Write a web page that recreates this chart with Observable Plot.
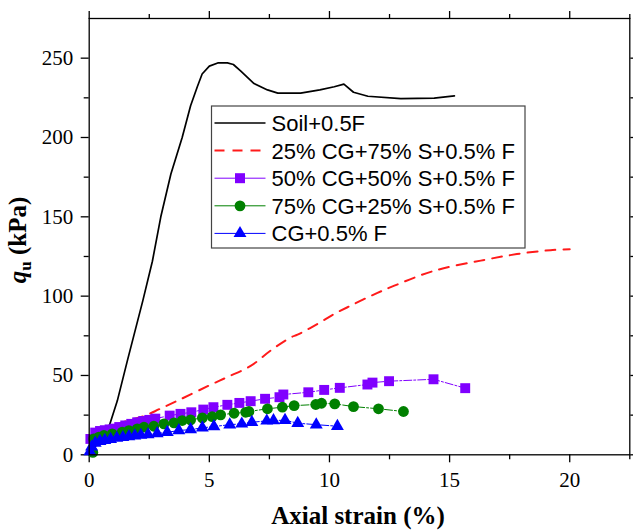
<!DOCTYPE html>
<html>
<head>
<meta charset="utf-8">
<script src="https://cdn.jsdelivr.net/npm/d3@7"></script>
<script src="https://cdn.jsdelivr.net/npm/@observablehq/plot@0.6"></script>
<style>
  html, body { margin: 0; padding: 0; background: white; }
  #chart { width: 633px; height: 532px; }
</style>
</head>
<body>
<div id="chart"></div>
<script>
// ---- Data (axial strain %, qu kPa) ----
const seriesNames = ["Soil+0.5F", "25% CG+75% S+0.5% F", "50% CG+50% S+0.5% F", "75% CG+25% S+0.5% F", "CG+0.5% F"];

const soil = [[0,2],[0.3,6],[0.6,11],[0.85,19],[1.17,34],[1.6,60],[2.23,97],[2.63,122],[2.98,150],[3.4,177],[3.87,200],[4.22,220],[4.5,232],[4.7,240],[5.0,245],[5.35,247],[5.75,247],[6.0,246],[6.3,242],[6.86,234],[7.42,230],[7.85,228],[8.8,228],[9.6,230],[10.2,232],[10.6,233.6],[11.0,228.5],[11.6,226],[12.97,224.5],[14.36,224.8],[15.2,226.2]];

const cg25 = [[0,5],[0.3,12],[0.8,17],[1.5,21],[2.3,24.5],[2.95,29],[3.8,35],[4.98,43.6],[5.75,49],[6.72,56],[7.55,65.7],[8.39,74],[8.67,75.7],[9.5,82.5],[10.2,88.8],[10.75,93],[11.7,100],[12.7,106.6],[14.36,116],[16.3,122.4],[17.8,126.5],[19.2,129],[20,129.5]];

const cg50 = [[0.05,10],[0.25,14],[0.45,15],[0.65,15.5],[0.85,16],[1.05,16.5],[1.25,17.5],[1.5,18.5],[1.75,19.5],[2.0,20.5],[2.25,21.3],[2.5,22],[2.75,22.8],[3.35,24.7],[3.8,25.8],[4.25,26.8],[4.75,28.5],[5.17,30],[5.75,31.5],[6.25,32.7],[6.72,33.8],[7.32,35.3],[7.92,36.3],[8.08,38],[9.12,39.4],[9.78,40.9],[10.43,42.2],[11.58,44.3],[11.79,45.5],[12.48,46.4],[14.33,47.6],[15.65,42]];

const cg75 = [[0.15,1.5],[0.19,10],[0.4,11.2],[0.61,12.2],[0.96,13.2],[1.37,14.2],[1.65,15.3],[2.0,16.4],[2.28,17.4],[2.69,18],[3.11,19.5],[3.53,20.1],[3.87,21.6],[4.22,22],[4.71,23.3],[5.12,24.1],[5.47,25.2],[6.03,26.2],[6.51,26.8],[6.65,27.3],[7.42,29],[8.04,30],[8.53,31],[9.43,31.7],[9.67,32.5],[10.22,32.1],[11.0,30.4],[12.04,29],[13.08,27.3]];

const cg100 = [[0.03,2],[0.1,5],[0.25,7.5],[0.45,8.5],[0.65,9.2],[0.89,9.8],[1.15,10.5],[1.4,11],[1.65,11.5],[1.9,12],[2.15,12.4],[2.45,12.8],[2.83,13.4],[3.25,14.2],[3.73,15.3],[4.22,15.9],[4.71,17],[5.19,17.8],[5.85,19],[6.35,19.5],[6.77,20.5],[7.39,21.4],[7.67,21.6],[8.15,21.8],[8.68,19.9],[9.45,19],[10.33,18]];

const xMajor = [0, 5, 10, 15, 20];
const xMinor = [2.5, 7.5, 12.5, 17.5, 22.5];
const yMajor = [0, 50, 100, 150, 200, 250];
const yMinor = [25, 75, 125, 175, 225];

const C = { soil: "#000000", red: "#ff1a1a", purple: "#8000ff", green: "#008000", blue: "#0000ff" };
const none = () => "";

const chart = Plot.plot({
  width: 633,
  height: 532,
  marginLeft: 88.7,
  marginRight: 3.7,
  marginTop: 18,
  marginBottom: 77.7,
  x: { domain: [0, 22.5] },
  y: { domain: [0, 275] },
  style: { fontFamily: "'Liberation Serif', 'Times New Roman', serif", fontSize: "21px", color: "black", background: "white" },
  marks: [
    Plot.axisX(xMajor, { anchor: "bottom", tickSize: 8, tickPadding: 9, label: null, strokeWidth: 1.3, fontSize: 21 }),
    Plot.axisX(xMinor, { anchor: "bottom", tickSize: 5, tickFormat: none, label: null, strokeWidth: 1.3 }),
    Plot.axisX(xMajor, { anchor: "top", tickSize: 8, tickFormat: none, label: null, strokeWidth: 1.3 }),
    Plot.axisX(xMinor, { anchor: "top", tickSize: 5, tickFormat: none, label: null, strokeWidth: 1.3 }),
    Plot.axisY(yMajor, { anchor: "left", tickSize: 8, tickPadding: 8, label: null, strokeWidth: 1.3, fontSize: 21 }),
    Plot.axisY(yMinor, { anchor: "left", tickSize: 5, tickFormat: none, label: null, strokeWidth: 1.3 }),
    Plot.axisY(yMajor, { anchor: "right", tickSize: 8, tickFormat: none, label: null, strokeWidth: 1.3 }),
    Plot.axisY(yMinor, { anchor: "right", tickSize: 5, tickFormat: none, label: null, strokeWidth: 1.3 }),
    Plot.line(soil, { stroke: C.soil, strokeWidth: 1.7 }),
    Plot.line(cg25, { stroke: C.red, strokeWidth: 2, strokeDasharray: "10,8", curve: "catmull-rom" }),
    Plot.line(cg50, { stroke: C.purple, strokeWidth: 1, strokeDasharray: "8,2,2,2" }),
    Plot.dot(cg50, { symbol: "square", r: 5.6, fill: C.purple, stroke: null }),
    Plot.line(cg75, { stroke: C.green, strokeWidth: 1, strokeDasharray: "8,2,2,2" }),
    Plot.dot(cg75, { symbol: "circle", r: 5.4, fill: C.green, stroke: null }),
    Plot.line(cg100, { stroke: C.blue, strokeWidth: 1, strokeDasharray: "8,2,2,2" }),
    Plot.dot(cg100, { symbol: "triangle", r: 4.8, fill: C.blue, stroke: null }),
    Plot.frame({ stroke: "black", strokeWidth: 1.3 })
  ]
});

document.getElementById("chart").appendChild(chart);

// ---- Axis titles ----
const svg = d3.select(chart);
const serif = "'Liberation Serif', 'Times New Roman', serif";
svg.append("text")
  .attr("x", 358).attr("y", 524)
  .attr("text-anchor", "middle")
  .attr("font-family", serif).attr("font-weight", "bold").attr("font-size", 25)
  .attr("fill", "black")
  .text("Axial strain (%)");

const yl = svg.append("text")
  .attr("transform", "translate(26,240) rotate(-90)")
  .attr("text-anchor", "middle")
  .attr("font-family", serif).attr("font-weight", "bold").attr("font-size", 25)
  .attr("fill", "black");
yl.append("tspan").attr("font-style", "italic").text("q");
yl.append("tspan").attr("font-size", 17).attr("dy", 5).text("u");
yl.append("tspan").attr("dy", -5).text(" (kPa)");

// ---- Legend ----
const legendItems = [
  { name: seriesNames[0], color: C.soil, dash: null, symbol: null, width: 1.7 },
  { name: seriesNames[1], color: C.red, dash: "10,8", symbol: null, width: 2 },
  { name: seriesNames[2], color: C.purple, dash: null, symbol: d3.symbolSquare, size: 100 },
  { name: seriesNames[3], color: C.green, dash: null, symbol: d3.symbolCircle, size: 92 },
  { name: seriesNames[4], color: C.blue, dash: null, symbol: d3.symbolTriangle, size: 72 }
];
const lg = svg.append("g").attr("transform", "translate(211.5,106)");
lg.append("rect").attr("x", 0).attr("y", 0).attr("width", 313.5).attr("height", 142)
  .attr("fill", "white").attr("stroke", "#444").attr("stroke-width", 1.2);
legendItems.forEach((d, i) => {
  const cy = 17 + i * 27.6;
  const g = lg.append("g");
  g.append("line").attr("x1", 3).attr("x2", 54).attr("y1", cy).attr("y2", cy)
    .attr("stroke", d.color).attr("stroke-width", d.width || 1)
    .attr("stroke-dasharray", d.dash);
  if (d.symbol) {
    g.append("path").attr("d", d3.symbol(d.symbol, d.size)())
      .attr("transform", `translate(28.5,${cy})`).attr("fill", d.color);
  }
  g.append("text").attr("x", 60).attr("y", cy).attr("dy", "0.36em")
    .attr("text-anchor", "start")
    .attr("font-family", "'Liberation Sans', Arial, sans-serif").attr("font-size", 22)
    .attr("fill", "black").text(d.name);
});
</script>
</body>
</html>
